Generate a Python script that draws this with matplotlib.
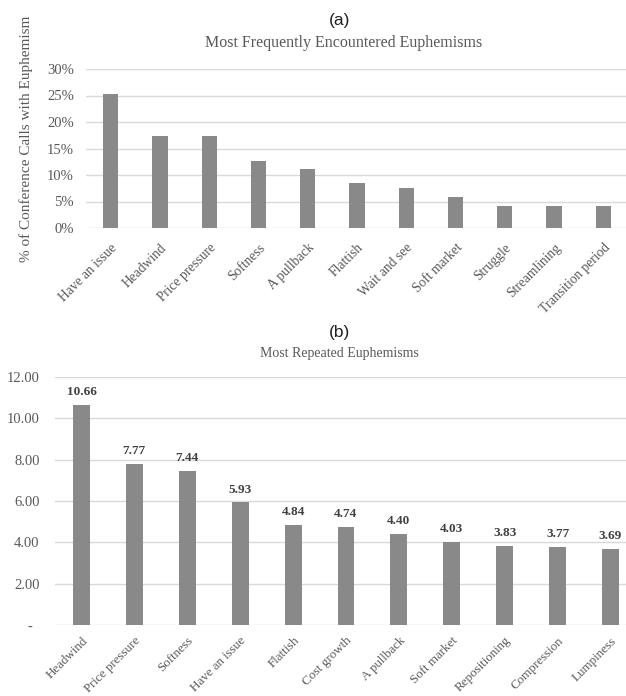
import matplotlib
matplotlib.use("Agg")
import matplotlib.pyplot as plt
from matplotlib.ticker import FuncFormatter

# Data
cats_a = ["Have an issue", "Headwind", "Price pressure", "Softness", "A pullback",
          "Flattish", "Wait and see", "Soft market", "Struggle", "Streamlining",
          "Transition period"]
vals_a = [25.3, 17.4, 17.3, 12.6, 11.2, 8.4, 7.5, 5.8, 4.2, 4.2, 4.2]
yticks_a = [0, 5, 10, 15, 20, 25, 30]

cats_b = ["Headwind", "Price pressure", "Softness", "Have an issue", "Flattish",
          "Cost growth", "A pullback", "Soft market", "Repositioning",
          "Compression", "Lumpiness"]
vals_b = [10.66, 7.77, 7.44, 5.93, 4.84, 4.74, 4.40, 4.03, 3.83, 3.77, 3.69]
yticks_b = [0, 2, 4, 6, 8, 10, 12]

SERIF = "Liberation Serif"
SANS = "Liberation Sans"
TXT = "#595959"
BAR = "#898989"
GRID = "#d9d9d9"

W, H = 626, 696
fig = plt.figure(figsize=(W / 100, H / 100), dpi=100)


def px_axes(left, right, top, bottom):
    return fig.add_axes([left / W, 1 - bottom / H, (right - left) / W, (bottom - top) / H])


def style(ax, n):
    for s in ax.spines.values():
        s.set_visible(False)
    ax.tick_params(axis="both", length=0, colors=TXT)
    ax.set_axisbelow(True)
    ax.yaxis.grid(True, color=GRID, linewidth=1.0)
    ax.set_xlim(-0.5, n - 0.5)


def xlabels(ax, cats, size):
    ax.set_xticks(range(len(cats)))
    ax.set_xticklabels(cats, rotation=45, ha="right", va="top", rotation_mode="anchor",
                       family=SERIF, fontsize=size, color=TXT)


# Panel (a)
ax1 = px_axes(86, 628, 69, 228)
style(ax1, len(cats_a))
ax1.bar(range(len(cats_a)), vals_a, width=0.31, color=BAR, zorder=2)
ax1.set_ylim(0, 30)
ax1.set_yticks(yticks_a)
ax1.yaxis.set_major_formatter(FuncFormatter(lambda v, p: f"{v:.0f}%"))
xlabels(ax1, cats_a, 9.75)
for lab in ax1.get_yticklabels():
    lab.set_family(SERIF)
    lab.set_fontsize(10.5)
ax1.tick_params(axis="y", pad=8.6)
ax1.tick_params(axis="x", pad=9.5)
ax1.set_ylabel("% of Conference Calls with Euphemism", family=SERIF, fontsize=11,
               color=TXT)
ax1.yaxis.set_label_coords(-0.098, 0.56)

fig.text(340 / W, 1 - 20 / H, "(a)", family=SANS, fontsize=12.5, color="#222222",
         ha="center", va="center")
fig.text(344 / W, 1 - 43 / H, "Most Frequently Encountered Euphemisms", family=SERIF,
         fontsize=11.5, color=TXT, ha="center", va="center")

# Panel (b)
ax2 = px_axes(55, 637, 377, 625)
style(ax2, len(cats_b))
ax2.bar(range(len(cats_b)), vals_b, width=0.32, color=BAR, zorder=2)
ax2.set_ylim(0, 12)
ax2.set_yticks(yticks_b)
ax2.yaxis.set_major_formatter(FuncFormatter(lambda v, p: "-  " if v == 0 else f"{v:.2f}"))
xlabels(ax2, cats_b, 9.4)
for lab in ax2.get_yticklabels():
    lab.set_family(SERIF)
    lab.set_fontsize(10.5)
ax2.tick_params(axis="y", pad=11)
ax2.tick_params(axis="x", pad=7)
for i, v in enumerate(vals_b):
    ax2.annotate(f"{v:.2f}", (i, v), xytext=(0, 5), textcoords="offset points",
                 ha="center", va="bottom", family=SERIF, fontsize=9.5,
                 fontweight="bold", color="#404040")

fig.text(340 / W, 1 - 332 / H, "(b)", family=SANS, fontsize=12.5, color="#222222",
         ha="center", va="center")
fig.text(339 / W, 1 - 353 / H, "Most Repeated Euphemisms", family=SERIF,
         fontsize=10, color=TXT, ha="center", va="center")

fig.savefig("out.png", dpi=100)
